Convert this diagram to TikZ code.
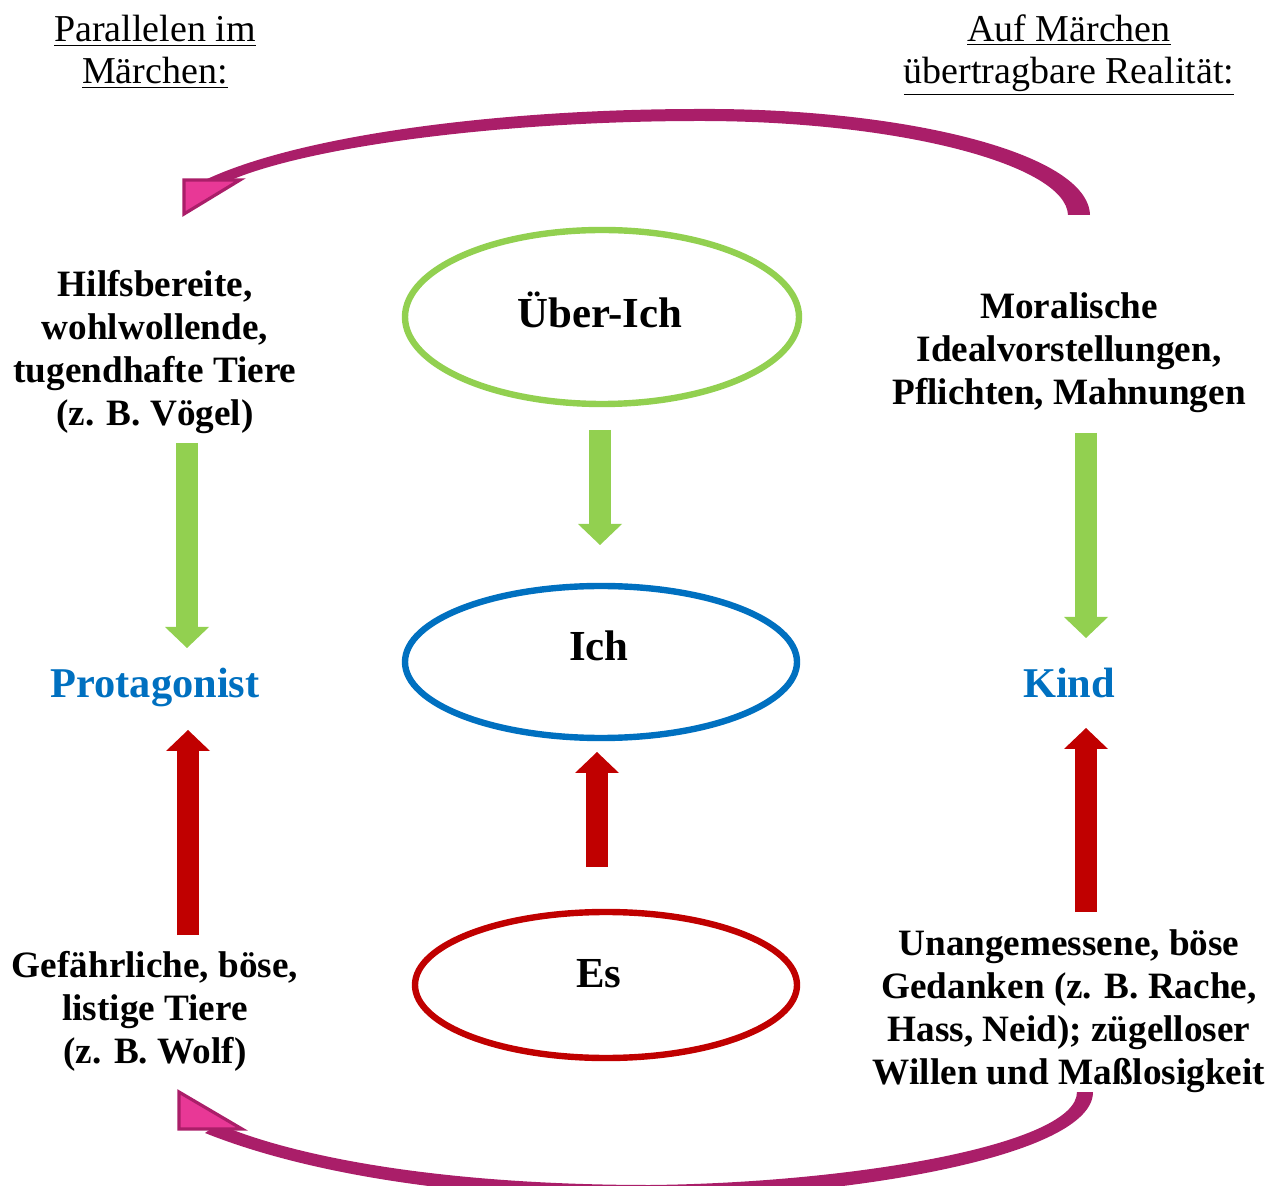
\documentclass[tikz,border=0pt]{standalone}
\usepackage{fontspec}
\setmainfont{Liberation Serif}
\usetikzlibrary{arrows.meta,shapes.geometric}
\definecolor{lgreen}{RGB}{146,208,80}
\definecolor{mblue}{RGB}{0,112,192}
\definecolor{dred}{RGB}{192,0,0}
\definecolor{shaftc}{RGB}{170,30,105}
\definecolor{headpink}{RGB}{232,56,150}
\begin{document}
\begin{tikzpicture}[x=0.5pt,y=-0.5pt,
  titletext/.style={font=\fontsize{19}{21}\selectfont, align=center, inner sep=0},
  sidetext/.style={font=\bfseries\fontsize{18.6}{21.5}\selectfont, align=center, inner sep=0},
  coretext/.style={font=\bfseries\fontsize{21.4}{25}\selectfont, anchor=base, inner sep=0},
  whotext/.style={font=\bfseries\fontsize{21.2}{25}\selectfont, text=mblue, anchor=base, inner sep=0},
  ego/.style={ellipse, draw, line width=3.2pt, inner sep=0},
  blockarrow/.style={line width=11pt, -{Triangle[width=22pt,length=10.5pt,line width=0pt]}},
  arcshaft/.style={fill=shaftc},
  archead/.style={fill=headpink, draw=shaftc, line width=1.6pt, line join=miter}
]
\useasboundingbox (0,0) rectangle (1285,1186);

% titles
\node[titletext] (tl) at (155,52) {\underline{Parallelen im}\\\underline{Märchen:}};
\node[titletext] (tr) at (1069,55) {\underline{Auf Märchen}\\\underline{übertragbare Realität:}};

% side texts
\node[sidetext] (lt) at (155,352) {Hilfsbereite,\\wohlwollende,\\tugendhafte Tiere\\(z. B. Vögel)};
\node[sidetext] (rt) at (1069,353) {Moralische\\Idealvorstellungen,\\Pflichten, Mahnungen};
\node[sidetext] (lb) at (155,1011) {Gefährliche, böse,\\listige Tiere\\(z. B. Wolf)};
\node[sidetext] (rb) at (1069,1011) {Unangemessene, böse\\Gedanken (z. B. Rache,\\Hass, Neid); zügelloser\\Willen und Maßlosigkeit};

\node[whotext] (prot) at (155,698) {Protagonist};
\node[whotext] (kind) at (1069,698) {Kind};

% ellipses
\node[ego, draw=lgreen, minimum width=197pt, minimum height=87pt] (ue) at (602,317) {};
\node[coretext] (uet) at (600,328) {Über-Ich};
\node[ego, draw=mblue, minimum width=196pt, minimum height=76pt] (ich) at (601,662) {};
\node[coretext] (icht) at (599,661) {Ich};
\node[ego, draw=dred, minimum width=191pt, minimum height=73pt] (es) at (606,985) {};
\node[coretext] (est) at (599,987) {Es};

% block arrow endpoints
\coordinate (gL1) at (187,443);  \coordinate (gL2) at (187,648);
\coordinate (gM1) at (600,430);  \coordinate (gM2) at (600,545);
\coordinate (gR1) at (1086,433); \coordinate (gR2) at (1086,638);
\coordinate (rL1) at (188,935);  \coordinate (rL2) at (188,730);
\coordinate (rM1) at (597,867);  \coordinate (rM2) at (597,752);
\coordinate (rR1) at (1086,912); \coordinate (rR2) at (1086,728);

\draw[blockarrow, lgreen] (gL1) -- (gL2);
\draw[blockarrow, lgreen] (gM1) -- (gM2);
\draw[blockarrow, lgreen] (gR1) -- (gR2);
\draw[blockarrow, dred] (rL1) -- (rL2);
\draw[blockarrow, dred] (rM1) -- (rM2);
\draw[blockarrow, dred] (rR1) -- (rR2);

% top curved arrow
\coordinate (topS) at (1079,215);
\fill[arcshaft] (1090,215) .. controls (1088,152) and (900,108) .. (700,109)
  .. controls (500,109) and (300,135) .. (205,180)
  -- (222,184) .. controls (300,147) and (500,121) .. (700,121)
  .. controls (900,121) and (1066,165) .. (1068,215) -- cycle;
\filldraw[archead] (184,180) -- (240,180) -- (184,214) -- cycle;

% bottom curved arrow
\coordinate (botS) at (1085,1092);
\fill[arcshaft] (1093,1092) .. controls (1093,1156) and (850,1197) .. (650,1199)
  .. controls (450,1199) and (300,1171) .. (205,1133)
  -- (218,1124) .. controls (300,1159) and (450,1185) .. (650,1185)
  .. controls (850,1183) and (1077,1145) .. (1077,1092) -- cycle;
\filldraw[archead] (179,1092) -- (179,1129) -- (242,1129) -- cycle;
\end{tikzpicture}
\end{document}
